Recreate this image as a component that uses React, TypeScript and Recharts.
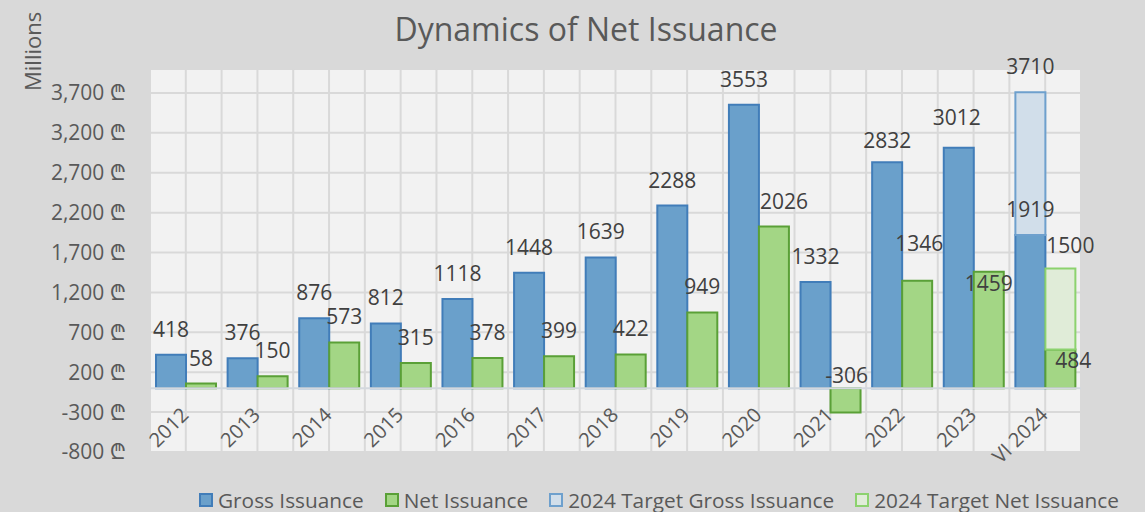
import React from 'react';
import { BarChart, Bar, XAxis, YAxis, CartesianGrid, LabelList, Legend, ReferenceLine } from 'recharts';

const categories = ['2012', '2013', '2014', '2015', '2016', '2017', '2018', '2019', '2020', '2021', '2022', '2023', 'VI 2024'];
const grossIssuance = [418, 376, 876, 812, 1118, 1448, 1639, 2288, 3553, 1332, 2832, 3012, 1919];
const netIssuance = [58, 150, 573, 315, 378, 399, 422, 949, 2026, -306, 1346, 1459, 484];
const targetGrossIssuance: (number | null)[] = [null, null, null, null, null, null, null, null, null, null, null, null, 3710];
const targetNetIssuance: (number | null)[] = [null, null, null, null, null, null, null, null, null, null, null, null, 1500];
const yTicks = [-800, -300, 200, 700, 1200, 1700, 2200, 2700, 3200, 3700];
const yDomain: [number, number] = [-800, 4000];

const data = categories.map((cat, i) => ({
  cat,
  gross: grossIssuance[i],
  net: netIssuance[i],
  targetGrossRest: targetGrossIssuance[i] != null ? (targetGrossIssuance[i] as number) - grossIssuance[i] : null,
  targetNetRest: targetNetIssuance[i] != null ? (targetNetIssuance[i] as number) - netIssuance[i] : null,
}));

const FONT = '"Open Sans", "Noto Sans", "DejaVu Sans", sans-serif';
const W = 1145;
const H = 512;
const X_AXIS_H = 30;
const MARGIN = { top: 69, right: 64, bottom: 30, left: 0 };
const PLOT_H = H - MARGIN.top - MARGIN.bottom - X_AXIS_H;
const ZERO_FROM_BOTTOM = ((0 - yDomain[0]) / (yDomain[1] - yDomain[0])) * PLOT_H;

const COLORS = {
  gross: { fill: '#6AA0CB', stroke: '#417DB9' },
  net: { fill: '#A3D685', stroke: '#5AA037' },
  tGross: { fill: '#D1DEEA', stroke: '#6EA0CD' },
  tNet: { fill: '#E0ECD8', stroke: '#8CD26E' },
};

// label nudges [dx, dy] by series and category
const labelNudge: Record<string, Record<string, [number, number]>> = {
  gross: { '2022': [0, 4], '2023': [-2, -5] },
  net: { '2020': [10, 0], '2021': [1, 13], '2022': [2, -12], '2023': [0, 37], 'VI 2024': [13, 36] },
  tNet: { 'VI 2024': [10, 3] },
  tGross: {},
};

const makeLabel = (series: string, values: (number | null)[]) => (props: any) => {
  const { x, y, width, height, value } = props;
  const idx = categories.indexOf(value);
  if (idx < 0) return null;
  const v = values[idx];
  if (v == null) return null;
  const top = Math.min(Number(y), Number(y) + Number(height));
  const [dx, dy] = labelNudge[series][value] ?? [0, 0];
  return (
    <text
      x={Number(x) + Number(width) / 2 + dx}
      y={top - 18 + dy}
      textAnchor="middle"
      fontSize={21}
      fontFamily={FONT}
      fill="#404040"
    >
      {v}
    </text>
  );
};

const renderXTick = (props: any) => {
  const { x, y, payload } = props;
  return (
    <g transform={`translate(${Number(x) + 4},${Number(y) - ZERO_FROM_BOTTOM + 28})`}>
      <text transform="rotate(-45)" textAnchor="end" fontSize={20} fontFamily={FONT} fill="#595959">
        {payload.value}
      </text>
    </g>
  );
};

const legendItems = [
  { name: 'Gross Issuance', ...COLORS.gross },
  { name: 'Net Issuance', ...COLORS.net },
  { name: '2024 Target Gross Issuance', ...COLORS.tGross },
  { name: '2024 Target Net Issuance', ...COLORS.tNet },
];

const LegendContent = () => (
  <div style={{ display: 'flex', alignItems: 'center', fontFamily: FONT, fontSize: 20.8, color: '#595959', whiteSpace: 'nowrap' }}>
    {legendItems.map((it) => (
      <div key={it.name} style={{ display: 'flex', alignItems: 'center', marginRight: 21 }}>
        <span
          style={{
            display: 'inline-block',
            width: 14,
            height: 14,
            boxSizing: 'border-box',
            background: it.fill,
            border: `2px solid ${it.stroke}`,
            marginRight: 5,
          }}
        />
        <span>{it.name}</span>
      </div>
    ))}
  </div>
);

export default function App() {
  return (
    <div style={{ position: 'absolute', left: 0, top: 0, width: W, height: H, background: '#D9D9D9' }}>
      <BarChart width={W} height={H} data={data} margin={MARGIN} barCategoryGap={6} barGap={0}>
        <CartesianGrid
          fill="#F2F2F2"
          stroke="#D9D9D9"
          strokeWidth={2}
          verticalCoordinatesGenerator={({ offset }: any) =>
            Array.from({ length: categories.length * 2 + 1 }, (_, k) => offset.left + (k * offset.width) / (categories.length * 2))
          }
        />
        <XAxis
          dataKey="cat"
          height={X_AXIS_H}
          axisLine={false}
          tickLine={false}
          tickSize={0}
          tickMargin={0}
          interval={0}
          tick={renderXTick}
        />
        <YAxis
          domain={yDomain}
          ticks={yTicks}
          width={150}
          axisLine={false}
          tickLine={false}
          tickSize={0}
          tickMargin={24}
          tick={{ fontSize: 21, fontFamily: FONT, fill: '#595959' }}
          tickFormatter={(v: number) => `${v.toLocaleString('en-US')} ₾`}
          allowDataOverflow
        />
        <Bar dataKey="gross" stackId="g" fill={COLORS.gross.fill} stroke={COLORS.gross.stroke} strokeWidth={2} isAnimationActive={false}>
          <LabelList dataKey="cat" content={makeLabel('gross', grossIssuance)} />
        </Bar>
        <Bar dataKey="targetGrossRest" stackId="g" fill={COLORS.tGross.fill} stroke={COLORS.tGross.stroke} strokeWidth={2} isAnimationActive={false}>
          <LabelList dataKey="cat" content={makeLabel('tGross', targetGrossIssuance)} />
        </Bar>
        <Bar dataKey="net" stackId="n" fill={COLORS.net.fill} stroke={COLORS.net.stroke} strokeWidth={2} isAnimationActive={false}>
          <LabelList dataKey="cat" content={makeLabel('net', netIssuance)} />
        </Bar>
        <Bar dataKey="targetNetRest" stackId="n" fill={COLORS.tNet.fill} stroke={COLORS.tNet.stroke} strokeWidth={2} isAnimationActive={false}>
          <LabelList dataKey="cat" content={makeLabel('tNet', targetNetIssuance)} />
        </Bar>
        <ReferenceLine y={0} stroke="#D3D8DE" strokeWidth={2} />
        <Legend
          verticalAlign="bottom"
          content={<LegendContent />}
          wrapperStyle={{ left: 199, top: 486, bottom: 'auto', width: 940, height: 0, overflow: 'visible' }}
        />
        <text x={586} y={41} textAnchor="middle" fontSize={32} fontFamily={FONT} fill="#595959">
          Dynamics of Net Issuance
        </text>
        <text transform="translate(41,91) rotate(-90)" fontSize={22} fontFamily={FONT} fill="#595959">
          Millions
        </text>
      </BarChart>
    </div>
  );
}
